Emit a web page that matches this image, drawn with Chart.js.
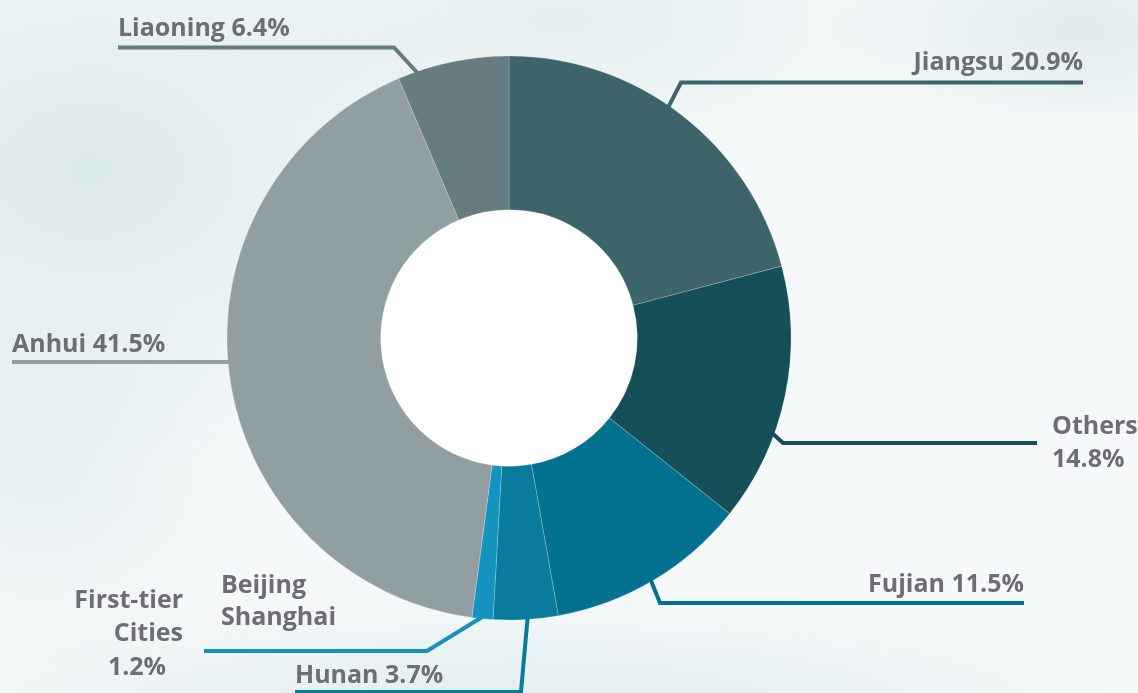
<!DOCTYPE html>
<html>
<head>
<meta charset="utf-8">
<script src="https://cdn.jsdelivr.net/npm/chart.js@4"></script>
<style>
  html, body { margin: 0; padding: 0; }
  body {
    width: 1138px; height: 693px; overflow: hidden;
    background:
      radial-gradient(ellipse 420px 300px at 90px 170px, rgba(200,221,225,0.55), rgba(200,221,225,0) 100%),
      radial-gradient(ellipse 360px 160px at 560px 20px, rgba(206,224,228,0.45), rgba(206,224,228,0) 100%),
      radial-gradient(ellipse 260px 120px at 1080px 30px, rgba(204,222,226,0.5), rgba(204,222,226,0) 100%),
      radial-gradient(ellipse 700px 110px at 520px 700px, rgba(208,225,229,0.5), rgba(208,225,229,0) 100%),
      radial-gradient(ellipse 240px 200px at 40px 470px, rgba(214,228,231,0.45), rgba(214,228,231,0) 100%),
      #f6f9f9;
  }
  canvas { display: block; }
</style>
</head>
<body>
<canvas id="shareChart" width="1138" height="693"></canvas>
<script>
// shares by province, clockwise from 12 o'clock
const categories = ['Jiangsu', 'Others', 'Fujian', 'Hunan', 'First-tier Cities', 'Anhui', 'Liaoning'];
const shares = [20.9, 14.8, 11.5, 3.7, 1.2, 41.5, 6.4];
const sliceColors = ['#3e646b', '#154f57', '#00728f', '#0a7a9d', '#1593bf', '#919fa3', '#677c80'];
const firstTierNote = ['Beijing', 'Shanghai'];

const FONT = 'bold 25px "Open Sans", "Noto Sans", sans-serif';
const TEXT_COLOR = '#6d6e71';

// leader line layout: t = where on the arc the line starts (0..1 along the slice)
const leaders = [
  { t: 0.46, path: [[681, 82.5], [1083, 82.5]],
    text: i => [[`${categories[i]} ${shares[i]}%`, 1083, 70, 'right']] },
  { t: 0.65, path: [[783, 443], [1037, 443]],
    text: i => [[categories[i], 1052, 434, 'left'], [`${shares[i]}%`, 1052, 467, 'left']] },
  { t: 0.51, path: [[660, 603], [1024, 603]],
    text: i => [[`${categories[i]} ${shares[i]}%`, 1024, 592, 'right']] },
  { t: 0.47, path: [[521, 692], [295, 692]],
    text: i => [[`${categories[i]} ${shares[i]}%`, 295, 683, 'left']] },
  { t: 0.5, path: [[427, 651], [204, 651]],
    text: i => {
      const [a, b] = categories[i].split(' ');
      return [[a, 183, 608, 'right'], [b, 183, 641, 'right'], [`${shares[i]}%`, 137, 675, 'center'],
              [firstTierNote[0], 221, 593, 'left'], [firstTierNote[1], 221, 625, 'left']];
    } },
  { t: 0.519, path: [[12, 362]],
    text: i => [[`${categories[i]} ${shares[i]}%`, 12, 352, 'left']] },
  { t: 0.175, path: [[394, 47.5], [118, 47.5]],
    text: i => [[`${categories[i]} ${shares[i]}%`, 118, 36, 'left']] }
];

const leaderPlugin = {
  id: 'leaders',
  beforeDatasetsDraw(chart) {
    const arc = chart.getDatasetMeta(0).data[0];
    if (!arc) return;
    const { x, y, innerRadius } = arc.getProps(['x', 'y', 'innerRadius'], true);
    const ctx = chart.ctx;
    ctx.save();
    ctx.fillStyle = '#ffffff';
    ctx.beginPath();
    ctx.arc(x, y, innerRadius + 1, 0, Math.PI * 2);
    ctx.fill();
    ctx.restore();
  },
  afterDatasetsDraw(chart) {
    const ctx = chart.ctx;
    const arcs = chart.getDatasetMeta(0).data;
    ctx.save();
    arcs.forEach((arc, i) => {
      const L = leaders[i];
      const p = arc.getProps(['x', 'y', 'startAngle', 'endAngle', 'outerRadius'], true);
      const a = p.startAngle + L.t * (p.endAngle - p.startAngle);
      const r = p.outerRadius - 2;
      ctx.strokeStyle = sliceColors[i];
      ctx.lineWidth = 4;
      ctx.lineJoin = 'miter';
      ctx.beginPath();
      ctx.moveTo(p.x + r * Math.cos(a), p.y + r * Math.sin(a));
      L.path.forEach(pt => ctx.lineTo(pt[0], pt[1]));
      ctx.stroke();

      ctx.fillStyle = TEXT_COLOR;
      ctx.font = FONT;
      ctx.textBaseline = 'alphabetic';
      L.text(i).forEach(([s, tx, ty, align]) => {
        ctx.textAlign = align;
        ctx.fillText(s, tx, ty);
      });
    });
    ctx.restore();
  }
};

new Chart(document.getElementById('shareChart'), {
  type: 'doughnut',
  data: {
    labels: categories,
    datasets: [{
      data: shares,
      backgroundColor: sliceColors,
      borderColor: 'rgba(255,255,255,0.2)',
      borderWidth: 1,
      hoverOffset: 0,
      offset: 0
    }]
  },
  options: {
    responsive: false,
    animation: false,
    events: [],
    cutout: '45.5%',
    radius: 282,
    layout: { padding: { left: 227, right: 347, top: 56, bottom: 73 } },
    plugins: {
      legend: { display: false },
      tooltip: { enabled: false }
    }
  },
  plugins: [leaderPlugin]
});
</script>
</body>
</html>
